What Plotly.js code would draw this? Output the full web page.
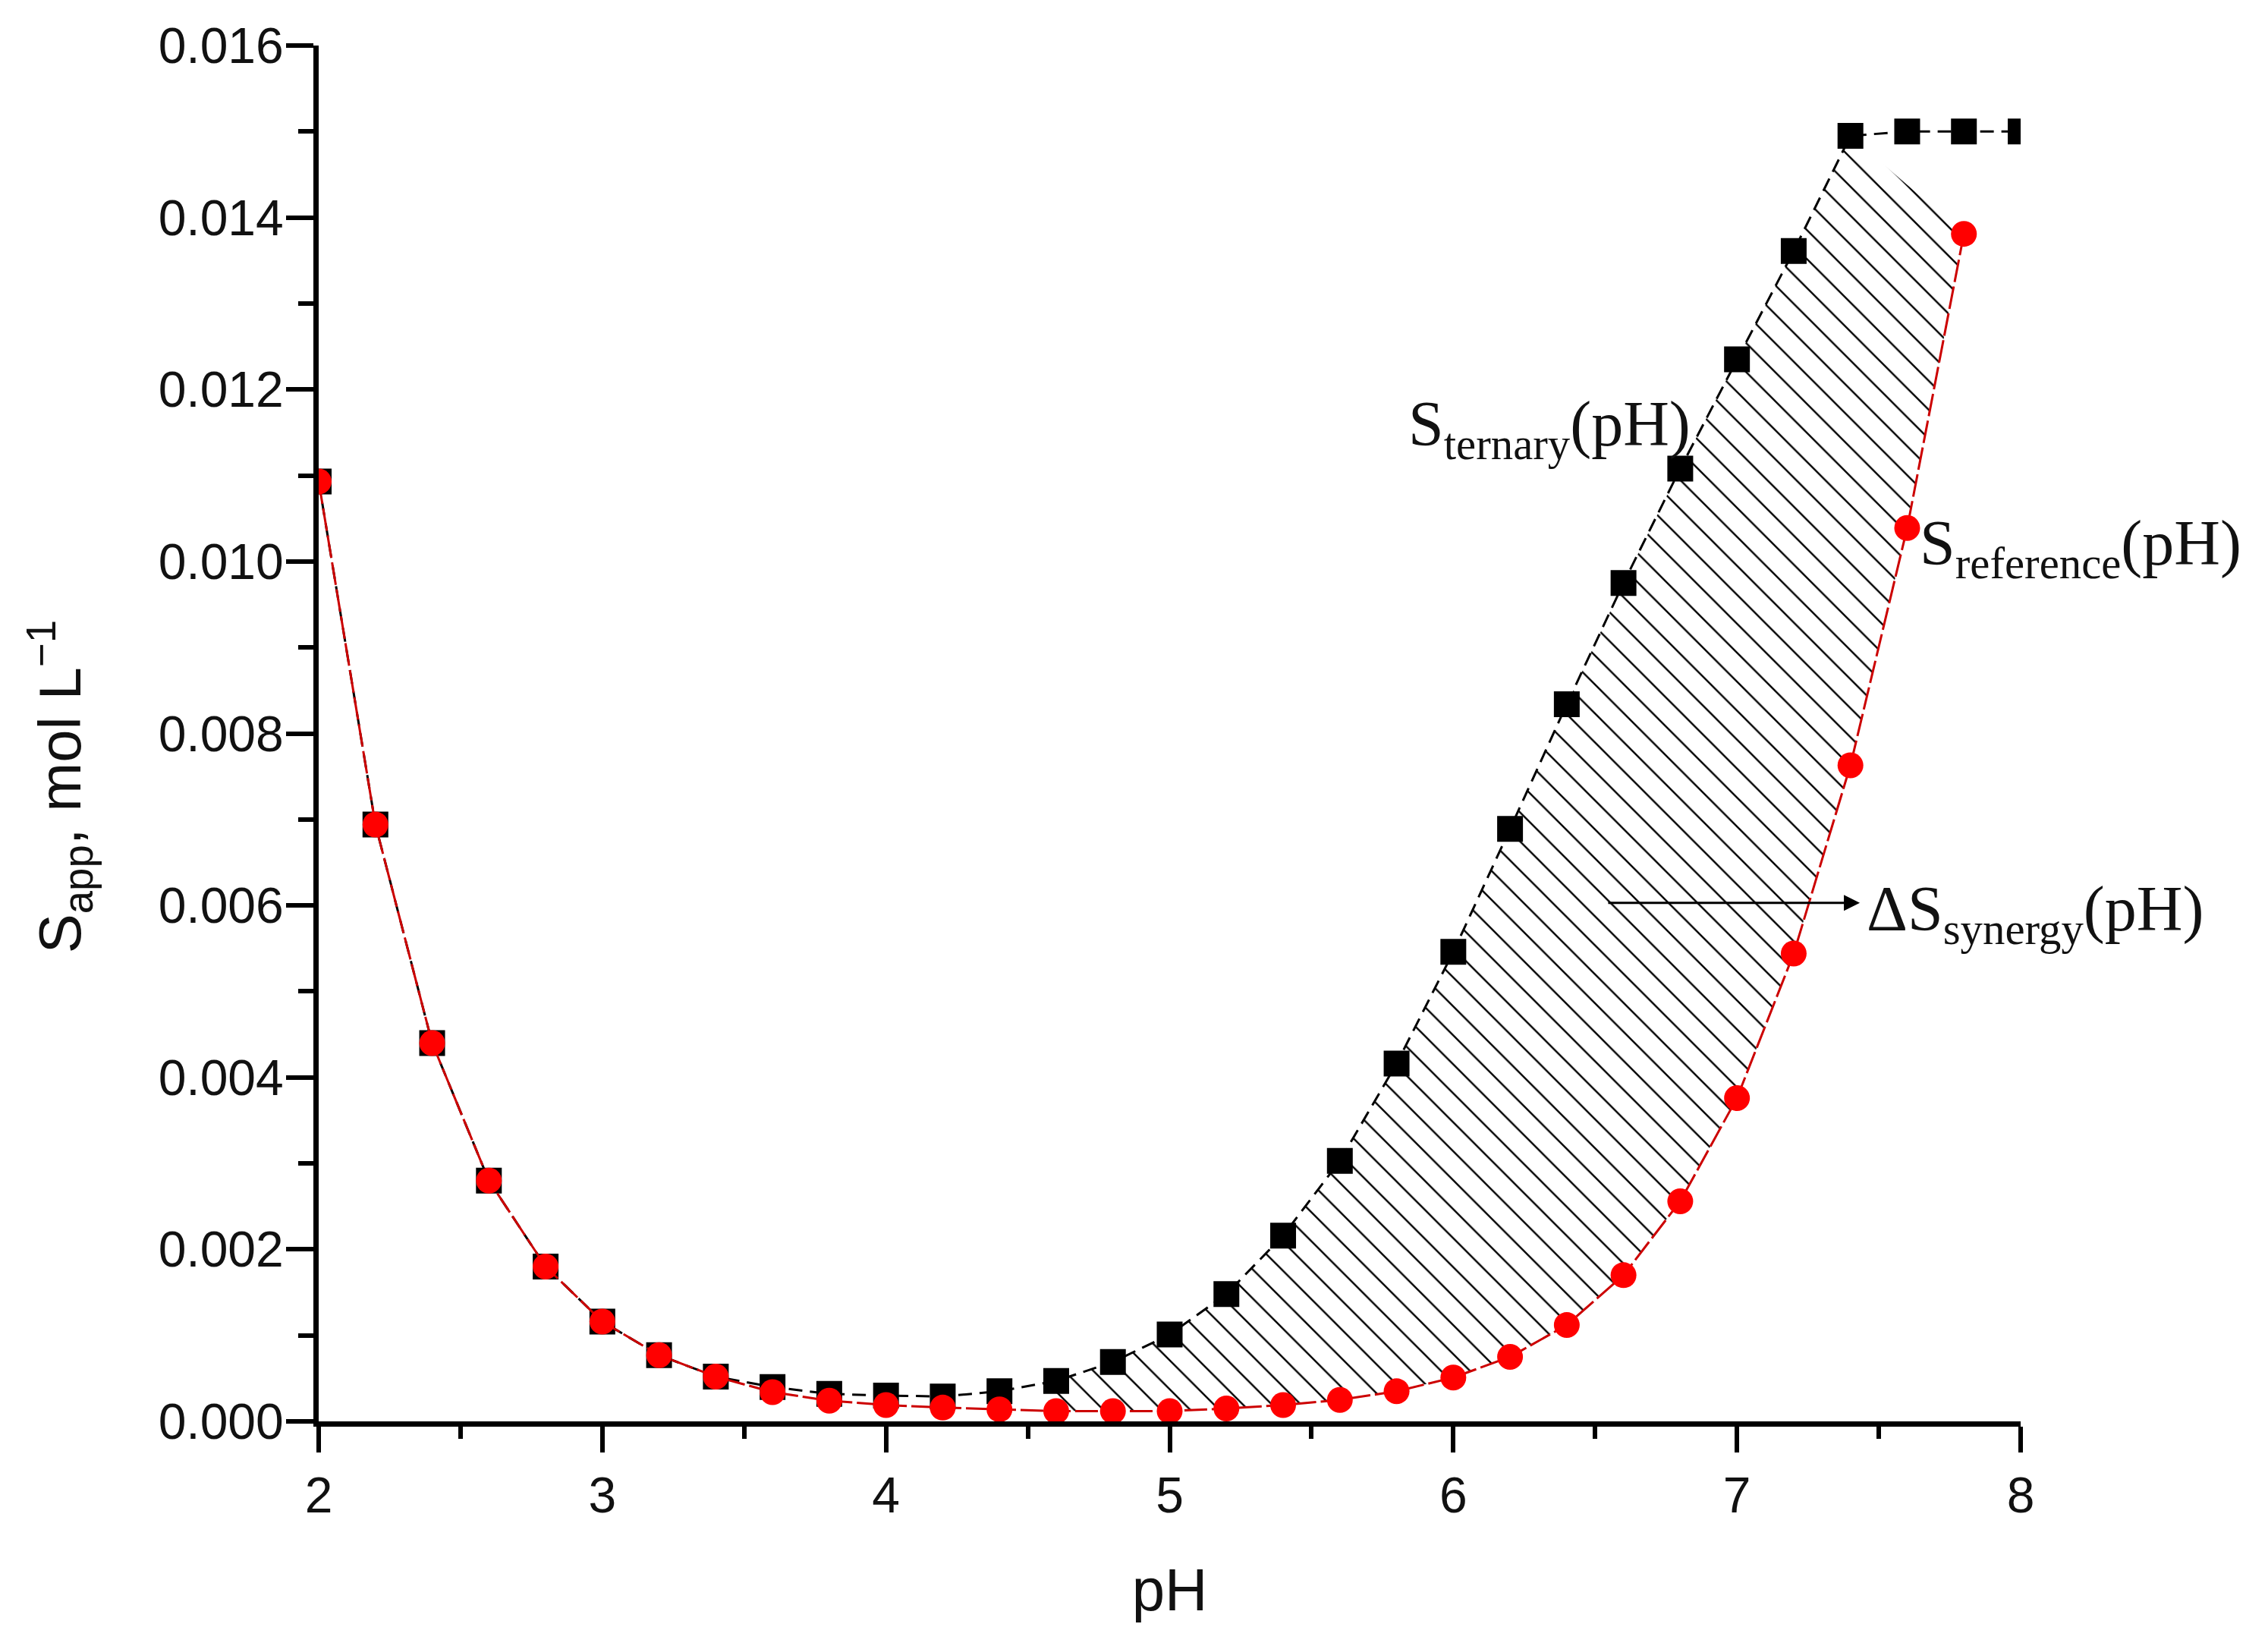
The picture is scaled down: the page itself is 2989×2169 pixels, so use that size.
<!DOCTYPE html>
<html>
<head>
<meta charset="utf-8">
<script src="https://cdn.plot.ly/plotly-3.0.1.min.js"></script>
<style>
  html, body {margin: 0; padding: 0; background: #ffffff;}
  #plot {width: 2989px; height: 2169px;}
</style>
</head>
<body>
<div id="plot"></div>
<script>
// pH values of the two measured series
var ph_ternary = [2.0, 2.2, 2.4, 2.6, 2.8, 3.0, 3.2, 3.4, 3.6, 3.8, 4.0, 4.2, 4.4, 4.6, 4.8, 5.0,
                  5.2, 5.4, 5.6, 5.8, 6.0, 6.2, 6.4, 6.6, 6.8, 7.0, 7.2, 7.4, 7.6, 7.8, 8.0]
var s_ternary = [0.01093, 0.00694, 0.00440, 0.00280, 0.00180, 0.00116, 0.00077, 0.00052, 0.00040,
                 0.00032, 0.00030, 0.00029, 0.00035, 0.00047, 0.00069, 0.00101, 0.00148, 0.00216,
                 0.00303, 0.00416, 0.00546, 0.00689, 0.00834, 0.00975, 0.01108, 0.01235, 0.01361,
                 0.01495, 0.01500, 0.01500, 0.01500]

var ph_reference = [2.0, 2.2, 2.4, 2.6, 2.8, 3.0, 3.2, 3.4, 3.6, 3.8, 4.0, 4.2, 4.4, 4.6, 4.8, 5.0,
                    5.2, 5.4, 5.6, 5.8, 6.0, 6.2, 6.4, 6.6, 6.8, 7.0, 7.2, 7.4, 7.6, 7.8]
var s_reference = [0.01093, 0.00694, 0.00440, 0.00280, 0.00180, 0.00116, 0.00077, 0.00052, 0.00034,
                   0.00024, 0.00019, 0.00016, 0.00014, 0.00012, 0.00012, 0.00012, 0.00015, 0.00019,
                   0.00025, 0.00035, 0.00051, 0.00075, 0.00112, 0.00170, 0.00256, 0.00376, 0.00544,
                   0.00763, 0.01039, 0.01381]

// limits of the hatched synergy band
var band_start = 4.6
var band_end_ternary = 7.4
var band_end_reference = 7.8

var x_ticks = [2, 3, 4, 5, 6, 7, 8]
var y_ticks = [0.000, 0.002, 0.004, 0.006, 0.008, 0.010, 0.012, 0.014, 0.016]

// polygon between the two curves, taken from the series above
band_x = []
band_y = []
for (var i = 0; i < ph_ternary.length; i++) {
   if (ph_ternary[i] >= band_start - 1e-9 && ph_ternary[i] <= band_end_ternary + 1e-9) {
      band_x.push(ph_ternary[i])
      band_y.push(s_ternary[i])
   }
}
for (var j = ph_reference.length - 1; j >= 0; j--) {
   if (ph_reference[j] >= band_start - 1e-9 && ph_reference[j] <= band_end_reference + 1e-9) {
      band_x.push(ph_reference[j])
      band_y.push(s_reference[j])
   }
}

var sans = 'Liberation Sans, Arial, sans-serif'
var serif = 'Liberation Serif, Times New Roman, serif'

band_trace = {
   x: band_x,
   y: band_y,
   mode: 'lines',
   fill: 'toself',
   fillcolor: 'rgba(255,255,255,0)',
   fillpattern: {shape: '\\', size: 27, solidity: 0.09, fgcolor: '#000000', fgopacity: 1},
   line: {width: 0, color: 'rgba(0,0,0,0)'},
   hoverinfo: 'skip'
}
ternary_trace = {
   name: 'S ternary',
   x: ph_ternary,
   y: s_ternary,
   mode: 'lines+markers',
   line: {color: '#000000', width: 3, dash: '18px,10px'},
   marker: {symbol: 'square', size: 34, color: '#000000'}
}
reference_trace = {
   name: 'S reference',
   x: ph_reference,
   y: s_reference,
   mode: 'lines+markers',
   line: {color: '#cc0000', width: 3, dash: '30px,6px'},
   marker: {symbol: 'circle', size: 34, color: '#ff0000'}
}

var traces = [band_trace, ternary_trace, reference_trace]

xaxis_layout = {
   range: [2, 8],
   tickvals: x_ticks,
   ticktext: x_ticks.map(String),
   showline: true,
   linewidth: 7,
   linecolor: '#000000',
   ticks: 'outside',
   ticklen: 34,
   tickwidth: 6,
   tickcolor: '#000000',
   minor: {dtick: 0.5, tick0: 2, ticks: 'outside', ticklen: 16, tickwidth: 6, tickcolor: '#000000', showgrid: false},
   showgrid: false,
   zeroline: false,
   tickfont: {family: sans, size: 66, color: '#111111'},
   title: {text: 'pH', font: {family: sans, size: 78, color: '#111111'}, standoff: 64}
}
yaxis_layout = {
   range: [0, 0.016],
   tickvals: y_ticks,
   ticktext: y_ticks.map(function(v) { return v.toFixed(3) }),
   showline: true,
   linewidth: 7,
   linecolor: '#000000',
   ticks: 'outside',
   ticklen: 36,
   tickwidth: 6,
   tickcolor: '#000000',
   ticklabelstandoff: -10,
   minor: {dtick: 0.001, tick0: 0, ticks: 'outside', ticklen: 20, tickwidth: 6, tickcolor: '#000000', showgrid: false},
   showgrid: false,
   zeroline: false,
   tickfont: {family: sans, size: 66, color: '#111111'}
}

var label_font = {family: serif, size: 84, color: '#111111'}

annotations = [
   {
      text: 'S<sub>app</sub>, mol L<sup>\u22121</sup>',
      xref: 'paper', yref: 'paper', x: -0.152, y: 0.461,
      xanchor: 'center', yanchor: 'middle', textangle: -90,
      showarrow: false,
      font: {family: sans, size: 78, color: '#111111'}
   },
   {
      text: 'S<sub>ternary</sub>(pH)',
      x: 5.836, y: 0.01154, xanchor: 'left', yanchor: 'middle',
      showarrow: false, font: label_font
   },
   {
      text: 'S<sub>reference</sub>(pH)',
      x: 7.639, y: 0.01016, xanchor: 'left', yanchor: 'middle',
      showarrow: false, font: label_font
   },
   {
      text: '\u0394S<sub>synergy</sub>(pH)',
      x: 7.452, y: 0.00590, xanchor: 'left', yanchor: 'middle',
      showarrow: false, font: label_font
   },
   {
      text: '',
      x: 7.433, y: 0.00603, ax: 6.542, ay: 0.00603,
      xref: 'x', yref: 'y', axref: 'x', ayref: 'y',
      showarrow: true, arrowhead: 2, arrowsize: 1.4, arrowwidth: 3, arrowcolor: '#000000'
   }
]

Plotly.newPlot('plot', traces, {
   width: 2989,
   height: 2169,
   margin: {l: 420, r: 326, t: 60, b: 296},
   paper_bgcolor: '#ffffff',
   plot_bgcolor: '#ffffff',
   showlegend: false,
   xaxis: xaxis_layout,
   yaxis: yaxis_layout,
   annotations: annotations
}, {staticPlot: true})
</script>
</body>
</html>
